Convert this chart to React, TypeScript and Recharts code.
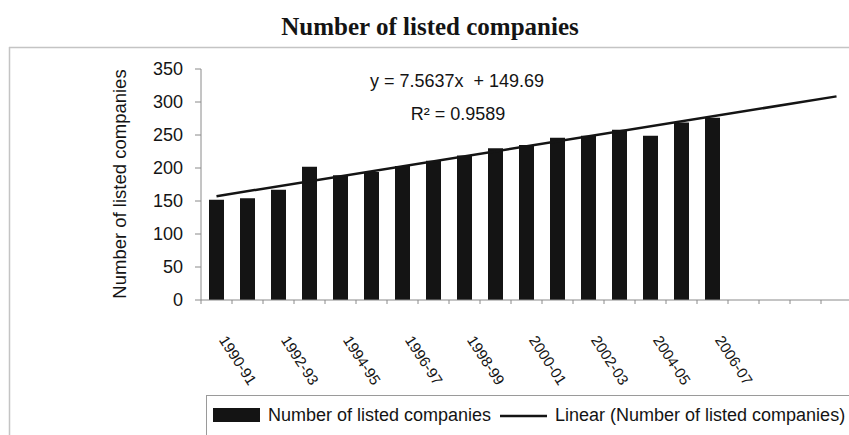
import { ComposedChart, Bar, Line, XAxis, YAxis } from "recharts";

// periods with data, then the empty periods the trendline is forecast into
const years = [
  "1990-91", "1991-92", "1992-93", "1993-94", "1994-95", "1995-96",
  "1996-97", "1997-98", "1998-99", "1999-00", "2000-01", "2001-02",
  "2002-03", "2003-04", "2004-05", "2005-06", "2006-07",
];
const forecastPeriods = ["2007-08", "2008-09", "2009-10", "2010-11"];

const listedCompanies = [
  152, 154, 167, 202, 189, 194, 203, 211, 219, 230, 235, 246, 249, 258, 249,
  269, 276,
];

// ends of the linear trendline (first period, last forecast period)
const trendStart = 157.3;
const trendEnd = 308.5;

const labelledYears = [
  "1990-91", "1992-93", "1994-95", "1996-97", "1998-99", "2000-01",
  "2002-03", "2004-05", "2006-07",
];
const yTicks = [0, 50, 100, 150, 200, 250, 300, 350];

const seriesName = "Number of listed companies";
const trendName = `Linear (${seriesName})`;
const equationText = "y = 7.5637x  + 149.69";
const rSquaredText = "R² = 0.9589";

const periods = [...years, ...forecastPeriods];
const data = periods.map((period, i) => ({
  period,
  listed: i < listedCompanies.length ? listedCompanies[i] : null,
  trend: i === 0 ? trendStart : i === periods.length - 1 ? trendEnd : null,
}));

const sans = "'Liberation Sans', Arial, sans-serif";
const ink = "#141414";
const axisGrey = "#8a8a8a";

function PeriodTick(props: any) {
  const { x, y, payload } = props;
  const edge = x - (payload.offset ?? 15.5);
  return (
    <g>
      <line x1={edge} y1={y} x2={edge} y2={y + 4} stroke={axisGrey} />
      {labelledYears.includes(payload.value) && (
        <text
          transform={`translate(${x + 2},${y + 40}) rotate(57)`}
          fontFamily={sans}
          fontSize={15}
          fill={ink}
        >
          {payload.value}
        </text>
      )}
    </g>
  );
}

function YTitle() {
  return (
    <text
      x={126}
      y={184}
      transform="rotate(-90 126 184)"
      textAnchor="middle"
      fontFamily={sans}
      fontSize={18.5}
      fill={ink}
    >
      {seriesName}
    </text>
  );
}

export default function App() {
  return (
    <div
      style={{
        position: "absolute",
        left: 0,
        top: 0,
        width: 849,
        height: 435,
        overflow: "hidden",
        background: "#fff",
      }}
    >
      <ComposedChart
        width={860}
        height={435}
        data={data}
        margin={{ top: 69, right: 8, bottom: 0, left: 0 }}
      >
        <XAxis
          dataKey="period"
          height={135}
          interval={0}
          tickLine={false}
          tickSize={0}
          tickMargin={0}
          stroke={axisGrey}
          tick={<PeriodTick />}
        />
        <YAxis
          width={201}
          domain={[0, 350]}
          ticks={yTicks}
          tickSize={6}
          tickMargin={12}
          stroke={axisGrey}
          tick={{ fontFamily: sans, fontSize: 18, fill: ink }}
          label={<YTitle />}
        />
        <Bar
          dataKey="listed"
          name={seriesName}
          fill={ink}
          barSize={15}
          isAnimationActive={false}
        />
        <Line
          dataKey="trend"
          name={trendName}
          type="linear"
          stroke={ink}
          strokeWidth={2.5}
          dot={false}
          activeDot={false}
          connectNulls
          isAnimationActive={false}
        />
      </ComposedChart>

      <svg
        width={849}
        height={435}
        style={{ position: "absolute", left: 0, top: 0, pointerEvents: "none" }}
      >
        <line x1={9} y1={47.5} x2={849} y2={47.5} stroke="#c4c4c4" strokeWidth={1.5} />
        <line x1={9.5} y1={47} x2={9.5} y2={435} stroke="#c4c4c4" strokeWidth={1.5} />
        <text
          x={430}
          y={35}
          textAnchor="middle"
          fontFamily="'Liberation Serif', 'Times New Roman', serif"
          fontWeight="bold"
          fontSize={25}
          fill={ink}
        >
          {seriesName}
        </text>
        <text x={457} y={87} textAnchor="middle" fontFamily={sans} fontSize={18} fill={ink} style={{ whiteSpace: "pre" }}>
          {equationText}
        </text>
        <text x={458} y={120} textAnchor="middle" fontFamily={sans} fontSize={18} fill={ink}>
          {rSquaredText}
        </text>

        <rect x={206.5} y={395.5} width={700} height={60} fill="none" stroke="#9a9a9a" />
        <rect x={213} y={408} width={47} height={14} fill={ink} />
        <text x={268} y={421} fontFamily={sans} fontSize={18} fill={ink}>
          {seriesName}
        </text>
        <line x1={500} y1={416} x2={547} y2={416} stroke={ink} strokeWidth={2.5} />
        <text x={555} y={421} fontFamily={sans} fontSize={18} fill={ink}>
          {trendName}
        </text>
      </svg>
    </div>
  );
}
